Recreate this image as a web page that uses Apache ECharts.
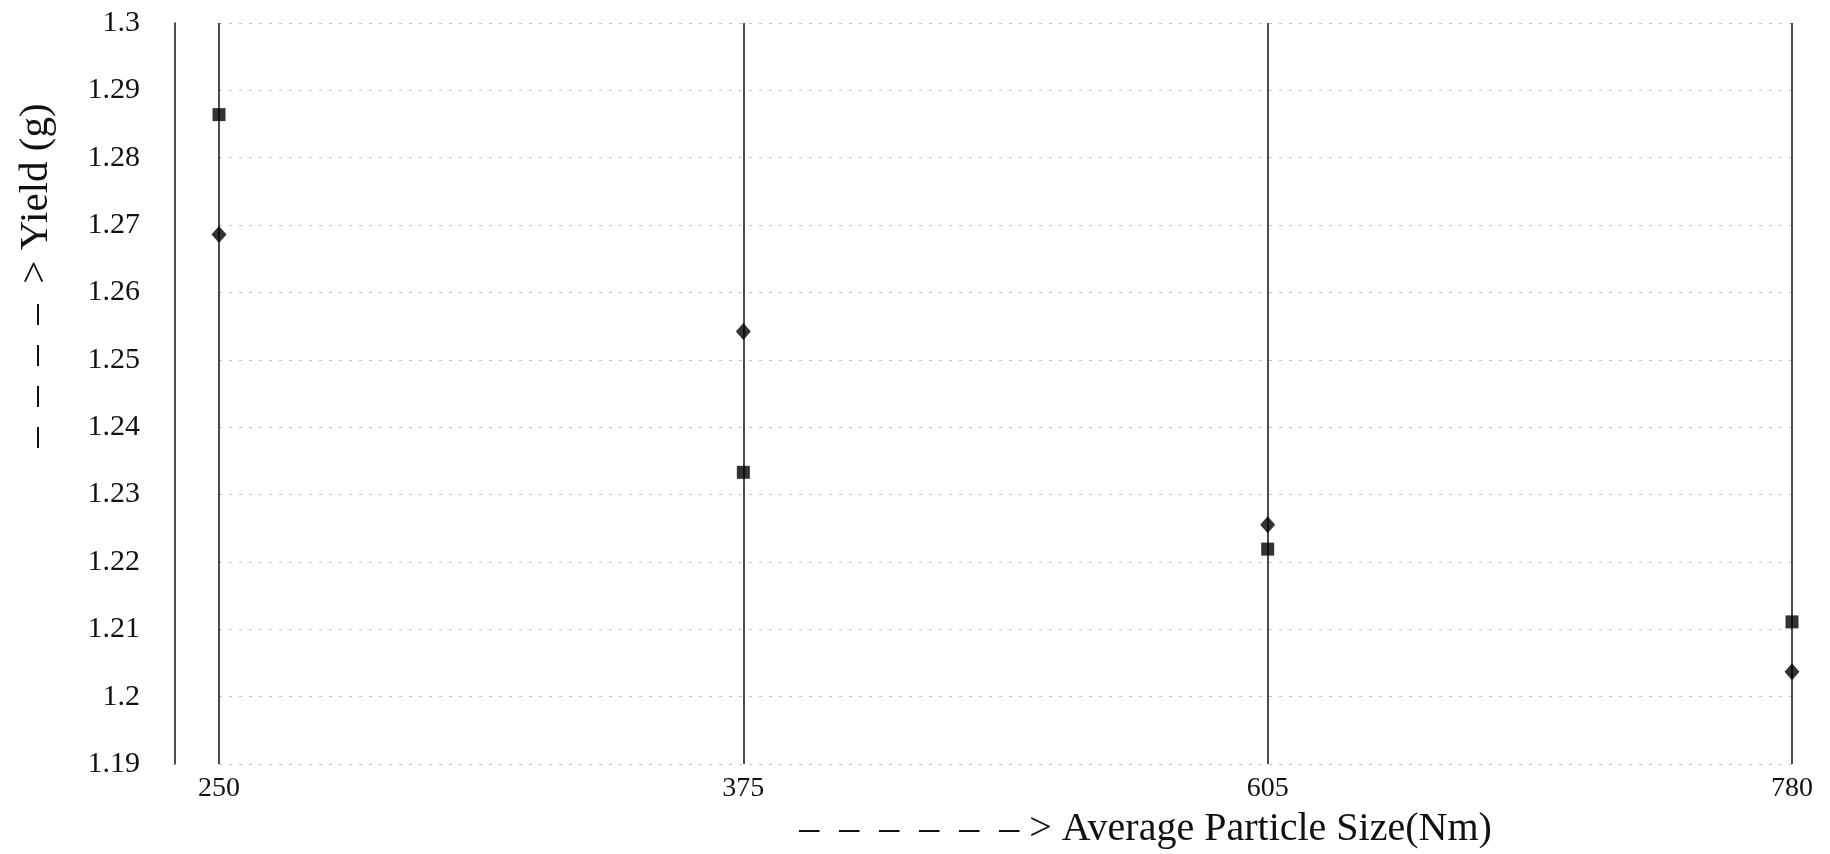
<!DOCTYPE html>
<html>
<head>
<meta charset="utf-8">
<script src="https://cdn.jsdelivr.net/npm/echarts@6/dist/echarts.min.js"></script>
<style>html,body{margin:0;padding:0;background:#fff}#c{width:1830px;height:854px}</style>
</head>
<body>
<div id="c"></div>
<script>
const categories = ['250', '375', '605', '780'];
const squareSeries = [1.2864, 1.2333, 1.2219, 1.2111];
const diamondSeries = [1.2686, 1.2542, 1.2255, 1.2037];
const yTicks = { min: 1.19, max: 1.3, interval: 0.01 };
const xName = '–  –  –  –  –  – > Average Particle Size(Nm)';
const yName = '–  –  –  –  > Yield (g)';

const chart = echarts.init(document.getElementById('c'));
const serif = 'Liberation Serif';
chart.setOption({
  backgroundColor: '#fff',
  animation: false,
  grid: { left: 219, right: 38, top: 23, bottom: 88 },
  xAxis: {
    type: 'category',
    data: categories,
    boundaryGap: false,
    axisLine: { show: false },
    axisTick: { show: false },
    axisLabel: { fontFamily: serif, fontSize: 28, color: '#111', margin: 11 },
    splitLine: { show: true, lineStyle: { color: '#111', width: 1.5 } },
    name: xName,
    nameLocation: 'middle',
    nameGap: 45,
    nameTextStyle: { fontFamily: serif, fontSize: 40, color: '#111', padding: [0, 0, 0, 280] }
  },
  yAxis: {
    type: 'value',
    min: yTicks.min,
    max: yTicks.max,
    interval: yTicks.interval,
    offset: 44,
    axisLine: { show: true, lineStyle: { color: '#111', width: 1.5 } },
    axisTick: { show: false },
    axisLabel: { fontFamily: serif, fontSize: 30, color: '#111', margin: 35 },
    splitLine: { show: true, lineStyle: { color: '#c4c4c4', width: 1, type: [3, 7] } },
    name: yName,
    nameLocation: 'middle',
    nameGap: 118,
    nameTextStyle: { fontFamily: serif, fontSize: 41, color: '#111', padding: [0, 0, 0, 236] }
  },
  series: [
    {
      name: 'square', type: 'scatter', data: squareSeries,
      symbol: 'rect', symbolSize: 13, itemStyle: { color: '#000' }
    },
    {
      name: 'diamond', type: 'scatter', data: diamondSeries,
      symbol: 'diamond', symbolSize: [15, 17], itemStyle: { color: '#000' }
    }
  ]
});
</script>
</body>
</html>
